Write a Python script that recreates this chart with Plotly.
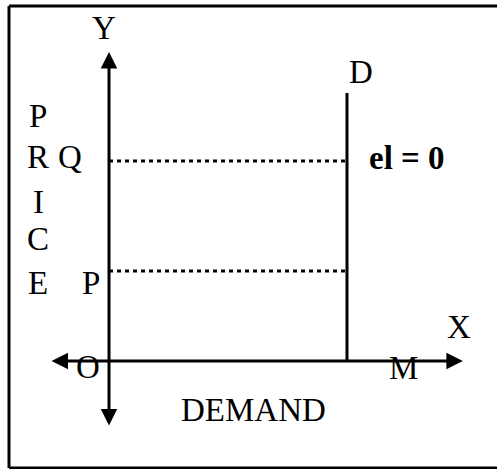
import plotly.graph_objects as go

# ---- data (economic units: quantity on X, price on Y) ----
demand_quantity = [10, 10]          # perfectly inelastic demand at OM
demand_price = [0, 13.4]            # vertical demand curve D
price_names = ["Q", "P"]            # price levels
price_values = [10, 4.5]
x_axis_extent = [-2.48, 14.87]      # axis arrow tips (left, right)
y_axis_extent = [-3.3, 15.45]       # axis arrow tips (bottom, top)
elasticity_label = "el = 0"
price_word = list("PRICE")
quantity_word = "DEMAND"

FONT = "Liberation Serif"
FS = 33

fig = go.Figure()

# vertical demand line D
fig.add_trace(go.Scatter(x=demand_quantity, y=demand_price, mode="lines",
                         line=dict(color="black", width=3), hoverinfo="skip"))
# dotted price lines
for name, v in zip(price_names, price_values):
    fig.add_trace(go.Scatter(x=[0, demand_quantity[0]], y=[v, v], mode="lines",
                             line=dict(color="black", width=3, dash="4px,4px"),
                             hoverinfo="skip"))

anns = []
# axes with arrows at both ends
anns.append(dict(x=x_axis_extent[1], y=0, ax=x_axis_extent[0], ay=0,
                 xref="x", yref="y", axref="x", ayref="y", text="",
                 showarrow=True, arrowhead=2, arrowside="end+start",
                 arrowwidth=3, arrowsize=1.1, arrowcolor="black"))
anns.append(dict(x=0, y=y_axis_extent[1], ax=0, ay=y_axis_extent[0],
                 xref="x", yref="y", axref="x", ayref="y", text="",
                 showarrow=True, arrowhead=2, arrowside="end+start",
                 arrowwidth=3, arrowsize=1.1, arrowcolor="black"))

def label(text, x, y, bold=False):
    t = f"<b>{text}</b>" if bold else text
    anns.append(dict(x=x, y=y, xref="x", yref="y", text=t, showarrow=False,
                     xanchor="center", yanchor="middle",
                     font=dict(family=FONT, size=FS, color="black")))

label("Y", -0.21, 16.65)
label("X", 14.71, 1.7)
label("O", -0.88, -0.3)
label("M", 12.39, -0.35)
label("D", 10.59, 14.45)
label(quantity_word, 6.09, -2.45)
label(elasticity_label, 12.52, 10.15, bold=True)
label(price_names[0], -1.64, 10.2)
label(price_names[1], -0.76, 3.9)
for ch, yy in zip(price_word, [12.25, 10.2, 7.95, 6.1, 3.9]):
    label(ch, -2.98, yy)

border = dict(color="black", width=3)
fig.update_layout(
    width=497, height=469,
    margin=dict(l=0, r=0, t=0, b=0),
    paper_bgcolor="white", plot_bgcolor="white",
    showlegend=False,
    xaxis=dict(range=[-4.58, 16.303], visible=False, fixedrange=True),
    yaxis=dict(range=[-5.4, 18.05], visible=False, fixedrange=True),
    annotations=anns,
    shapes=[
        dict(type="line", xref="paper", yref="paper", x0=9/497, x1=9/497,
             y0=1/469, y1=1-6/469, line=border),
        dict(type="line", xref="paper", yref="paper", x0=9/497, x1=1,
             y0=1-6/469, y1=1-6/469, line=border),
        dict(type="line", xref="paper", yref="paper", x0=9/497, x1=1,
             y0=1/469, y1=1/469, line=border),
    ],
)

fig.write_html("out.html", config={"displayModeBar": False, "staticPlot": True},
               post_script="document.body.style.margin='0';document.body.style.overflow='hidden';")
